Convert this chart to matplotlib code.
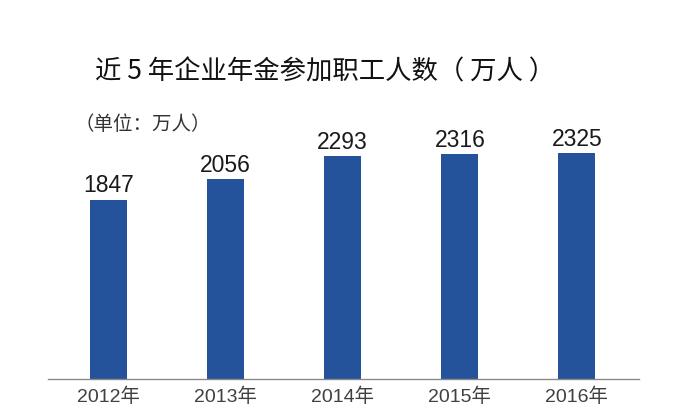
import matplotlib
matplotlib.use("Agg")
import matplotlib.pyplot as plt

years = ["2012年", "2013年", "2014年", "2015年", "2016年"]
values = [1847, 2056, 2293, 2316, 2325]

plt.rcParams['font.family'] = ['Liberation Sans', 'Noto Sans CJK SC', 'DejaVu Sans']

W, H = 700, 415
fig = plt.figure(figsize=(W / 100, H / 100), dpi=100)
fig.patch.set_facecolor('white')

ax_left, ax_right = 48, 639
ax_top, ax_bot = 130, 379
ax = fig.add_axes([ax_left / W, (H - ax_bot) / H, (ax_right - ax_left) / W, (ax_bot - ax_top) / H])

x = list(range(len(years)))
ax.bar(x, values, width=0.316, color='#24529b', zorder=2)
ax.set_xlim(-0.517, 4.53)
ax.set_ylim(0, 2565)

for xi, v in zip(x, values):
    ax.text(xi, v + 25, str(v), ha='center', va='bottom', fontsize=16.5,
            color='#1a1a1a', family=['Liberation Sans', 'DejaVu Sans'])

for s in ['top', 'right', 'left']:
    ax.spines[s].set_visible(False)
ax.spines['bottom'].set_color('#8a8a8a')
ax.spines['bottom'].set_linewidth(1.0)
ax.set_yticks([])
ax.set_xticks(x)
ax.set_xticklabels(years, fontsize=14, color='#404040')
ax.tick_params(axis='x', length=0, pad=6)

fig.text(325 / W, 1 - 72 / H, "近 5 年企业年金参加职工人数（ 万人 ）", ha='center', va='center',
         fontsize=19, color='#111111', family=['Noto Sans CJK SC', 'DejaVu Sans'])
fig.text(75 / W, 1 - 125 / H, "（单位：万人）", ha='left', va='center',
         fontsize=14, color='#333333', family=['Noto Sans CJK SC', 'DejaVu Sans'])

fig.savefig("out.png", dpi=100, facecolor='white')
